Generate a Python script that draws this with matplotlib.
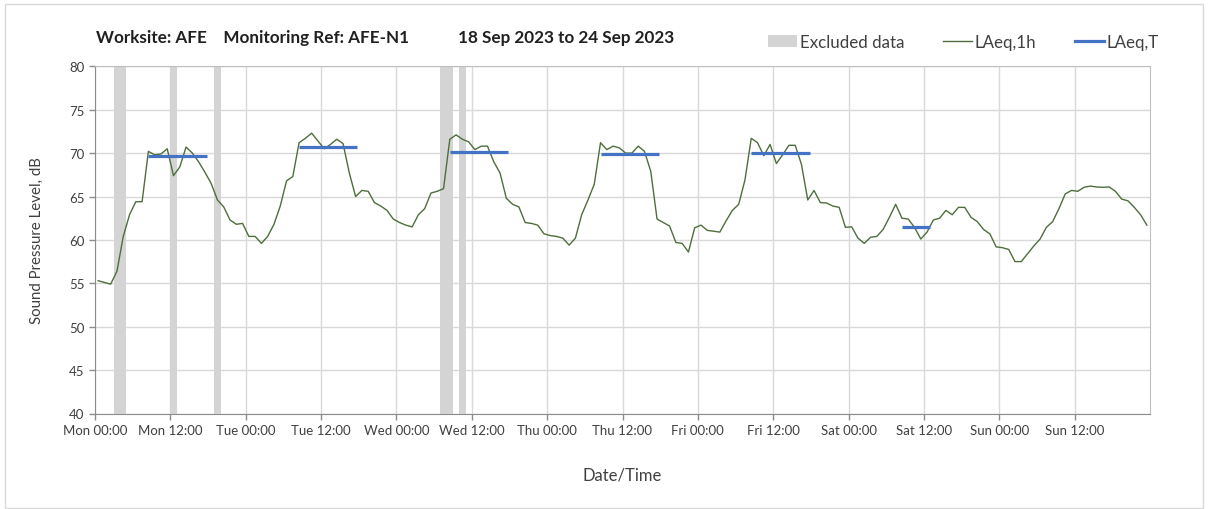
import matplotlib
matplotlib.use("Agg")
import matplotlib.pyplot as plt
from matplotlib.patches import Patch, Rectangle
from matplotlib.lines import Line2D
import numpy as np

plt.rcParams['font.family'] = ['Lato', 'DejaVu Sans']

# Hourly LAeq,1h values (hour i plotted at i+0.5 hours from Mon 00:00)
laeq_1h = [
    55.3, 55.1, 54.9, 56.4, 60.4, 62.9, 64.4, 64.4, 70.2, 69.8, 69.9, 70.5,
    67.4, 68.4, 70.7, 70.0, 69.0, 67.8, 66.5, 64.6, 63.8, 62.3, 61.8, 61.9,
    60.4, 60.4, 59.6, 60.4, 61.8, 63.9, 66.8, 67.3, 71.2, 71.7, 72.3, 71.4,
    70.5, 71.0, 71.6, 71.1, 67.7, 65.0, 65.7, 65.6, 64.3, 63.9, 63.4, 62.4,
    62.0, 61.7, 61.5, 62.9, 63.6, 65.4, 65.6, 65.9, 71.6, 72.1, 71.6, 71.3,
    70.4, 70.8, 70.8, 69.0, 67.7, 64.8, 64.1, 63.8, 62.0, 61.9, 61.7, 60.7,
    60.5, 60.4, 60.2, 59.4, 60.2, 62.9, 64.6, 66.4, 71.2, 70.4, 70.8, 70.6,
    70.0, 70.0, 70.8, 70.2, 67.9, 62.4, 62.0, 61.6, 59.7, 59.6, 58.6, 61.4,
    61.7, 61.1, 61.0, 60.9, 62.2, 63.4, 64.1, 66.9, 71.7, 71.2, 69.7, 71.0,
    68.8, 69.8, 70.9, 70.9, 68.7, 64.6, 65.7, 64.3, 64.25, 63.9, 63.75, 61.45,
    61.5, 60.2, 59.6, 60.3, 60.4, 61.2, 62.6, 64.1, 62.5, 62.4, 61.45, 60.1,
    60.9, 62.3, 62.5, 63.4, 62.9, 63.75, 63.75, 62.6, 62.1, 61.2, 60.7, 59.2,
    59.1, 58.9, 57.5, 57.5, 58.4, 59.3, 60.1, 61.45, 62.1, 63.6, 65.3, 65.7,
    65.6, 66.06, 66.2, 66.1, 66.06, 66.1, 65.6, 64.7, 64.5, 63.75, 62.9, 61.7,
]

# LAeq,T (daytime) periods: start/end hours from Mon 00:00 and level
laeq_t_start = [8.5, 32.5, 56.5, 80.5, 104.5, 128.5]
laeq_t_end = [17.8, 41.8, 65.8, 89.8, 113.8, 132.9]
laeq_t_value = [69.7, 70.7, 70.1, 69.9, 70.0, 61.5]

# Excluded data periods (hours from Mon 00:00)
excl_start = [3, 12, 19, 55, 58]
excl_end = [5, 13, 20, 57, 59]

tick_labels = ["Mon 00:00", "Mon 12:00", "Tue 00:00", "Tue 12:00", "Wed 00:00",
               "Wed 12:00", "Thu 00:00", "Thu 12:00", "Fri 00:00", "Fri 12:00",
               "Sat 00:00", "Sat 12:00", "Sun 00:00", "Sun 12:00"]
y_ticks = [40, 45, 50, 55, 60, 65, 70, 75, 80]

fig = plt.figure(figsize=(12.08, 5.10), dpi=100)
ax = fig.add_axes([95/1208, 1-414.5/510, (1150-95)/1208, (414.5-67.3)/510])

for s, e in zip(excl_start, excl_end):
    ax.axvspan(s, e, color='#d4d4d4', lw=0, zorder=1)

hours = np.arange(len(laeq_1h)) + 0.5
ax.plot(hours, laeq_1h, color='#4e6e3c', lw=1.0, zorder=3)

for s, e, v in zip(laeq_t_start, laeq_t_end, laeq_t_value):
    ax.plot([s, e], [v, v], color='#4472c4', lw=2.3, solid_capstyle='butt', zorder=4)

ax.set_xlim(0, 168)
ax.set_ylim(40, 80)
ax.set_xticks(np.arange(0, 168, 12))
ax.set_xticklabels(tick_labels)
ax.set_yticks(y_ticks)
ax.grid(True, color='#d9d9d9', lw=1.0, zorder=0)
ax.set_axisbelow(True)
for sp in ['top', 'right']:
    ax.spines[sp].set_color('#bfbfbf')
for sp in ['left', 'bottom']:
    ax.spines[sp].set_color('#8c8c8c')
ax.tick_params(axis='both', colors='#8c8c8c', labelcolor='#404040', labelsize=9.5,
               length=4, width=1)
ax.set_ylabel("Sound Pressure Level, dB", fontsize=10.8, color='#404040', labelpad=18)
ax.set_xlabel("Date/Time", fontsize=12, color='#404040', labelpad=22)

fig.text(96/1208, 1-38/510, "Worksite: AFE    Monitoring Ref: AFE-N1",
         fontsize=12.3, fontweight='bold', color='#202020', va='center', ha='left')
fig.text(458/1208, 1-38/510, "18 Sep 2023 to 24 Sep 2023",
         fontsize=12.3, fontweight='bold', color='#202020', va='center', ha='left')

handles = [Patch(facecolor='#d4d4d4', edgecolor='none'),
           Line2D([], [], color='#4e6e3c', lw=1.0),
           Line2D([], [], color='#4472c4', lw=2.3)]
fig.legend(handles, ["Excluded data", "LAeq,1h", "LAeq,T"], loc='center right',
           bbox_to_anchor=(1174/1208, 1-43/510), ncol=3, frameon=False,
           fontsize=12.2, handlelength=1.7, handletextpad=0.15, columnspacing=2.3,
           labelcolor='#404040')

fig.patches.append(Rectangle((5/1208, 1/510), 1198/1208, 504/510, transform=fig.transFigure,
                             fill=False, edgecolor='#d9d9d9', lw=1.0))

fig.savefig("out.png", dpi=100)
